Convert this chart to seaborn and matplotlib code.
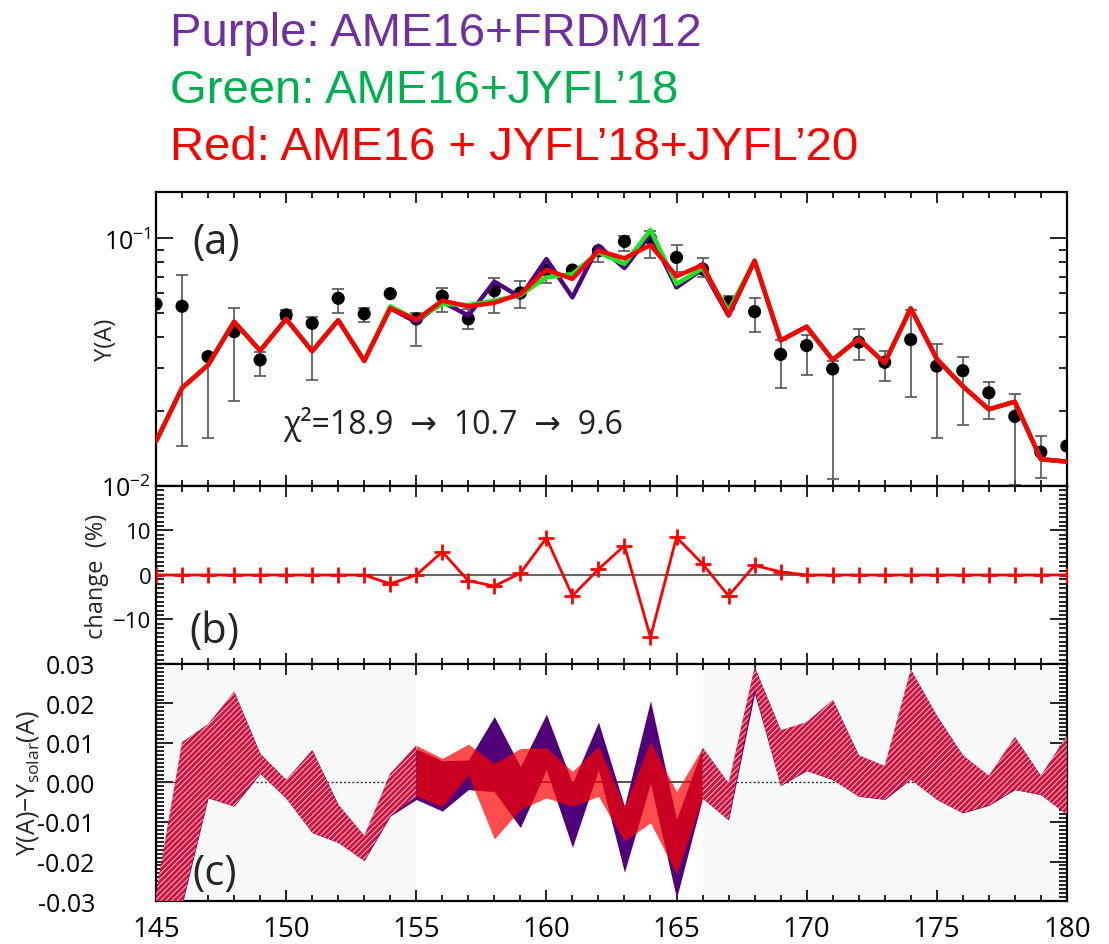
"""
Y(A) abundances around the rare-earth peak: model vs solar, change and residual bands
"""
import matplotlib
matplotlib.use("Agg")
import matplotlib.pyplot as plt
from matplotlib.ticker import MultipleLocator, FixedLocator, NullFormatter, FixedFormatter
import numpy as np
import pandas as pd
import seaborn as sns

sns.set_theme(style="ticks")
# seaborn resets the font, so set it afterwards
plt.rcParams["font.family"] = ["Open Sans", "DejaVu Sans"]
plt.rcParams["hatch.linewidth"] = 0.7

# ---- data ----
mass = [145, 146, 147, 148, 149, 150, 151, 152, 153, 154,
        155, 156, 157, 158, 159, 160, 161, 162, 163, 164,
        165, 166, 167, 168, 169, 170, 171, 172, 173, 174,
        175, 176, 177, 178, 179, 180]

# solar abundances with asymmetric error bar ends
y_solar = [0.0543, 0.0532, 0.0333, 0.0420, 0.0323, 0.0491, 0.0454, 0.0573, 0.0496, 0.0598,
           0.0473, 0.0584, 0.0473, 0.0615, 0.0602, 0.0745, 0.0745, 0.0891, 0.0972, 0.1000,
           0.0838, 0.0752, 0.0552, 0.0506, 0.0340, 0.0369, 0.0297, 0.0381, 0.0316, 0.0390,
           0.0305, 0.0292, 0.0238, 0.0191, 0.0137, 0.0145]
solar_hi = [0.0543, 0.0711, 0.0340, 0.0524, 0.0347, 0.0516, 0.0483, 0.0625, 0.0525, 0.0598,
            0.0500, 0.0632, 0.0519, 0.0694, 0.0673, 0.0775, 0.0745, 0.0905, 0.1025, 0.1070,
            0.0942, 0.0836, 0.0587, 0.0573, 0.0390, 0.0408, 0.0321, 0.0431, 0.0350, 0.0516,
            0.0374, 0.0333, 0.0263, 0.0235, 0.0159, 0.0145]
solar_lo = [0.0543, 0.01446, 0.01563, 0.0221, 0.0278, 0.0473, 0.0267, 0.0500, 0.0461, 0.0598,
            0.0366, 0.0503, 0.0431, 0.0500, 0.0522, 0.0660, 0.0745, 0.0800, 0.0891, 0.0830,
            0.0729, 0.0696, 0.0519, 0.0420, 0.0249, 0.0282, 0.0107, 0.0322, 0.0265, 0.0228,
            0.0156, 0.0177, 0.0186, 0.0101, 0.0108, 0.0145]

y_purple = [0.01514, 0.0249, 0.0308, 0.0461, 0.0352, 0.0473, 0.0350, 0.0467, 0.0320, 0.0522,
            0.0459, 0.0555, 0.0488, 0.0669, 0.0578, 0.0825, 0.0578, 0.0934, 0.0759, 0.1040,
            0.0634, 0.0752, 0.0488, 0.0812, 0.0387, 0.0440, 0.0323, 0.0393, 0.0314, 0.0522,
            0.0326, 0.0253, 0.0204, 0.0219, 0.01283, 0.01254]
y_green = [0.01514, 0.0249, 0.0308, 0.0461, 0.0352, 0.0473, 0.0350, 0.0467, 0.0320, 0.0532,
           0.0469, 0.0543, 0.0538, 0.0560, 0.0590, 0.0696, 0.0718, 0.0878, 0.0788, 0.1083,
           0.0654, 0.0757, 0.0511, 0.0812, 0.0387, 0.0440, 0.0323, 0.0393, 0.0314, 0.0522,
           0.0326, 0.0253, 0.0204, 0.0219, 0.01283, 0.01254]
y_red = [0.01514, 0.0249, 0.0308, 0.0461, 0.0352, 0.0473, 0.0350, 0.0467, 0.0320, 0.0522,
         0.0469, 0.0560, 0.0532, 0.0549, 0.0596, 0.0747, 0.0686, 0.0891, 0.0831, 0.0940,
         0.0703, 0.0781, 0.0491, 0.0812, 0.0387, 0.0440, 0.0323, 0.0393, 0.0314, 0.0522,
         0.0326, 0.0253, 0.0204, 0.0219, 0.01283, 0.01254]

change_pct = [0, 0, 0, 0, 0, 0, 0, 0, 0, -2.0,
              0.0, 5.2, -1.3, -2.5, 0.4, 8.3, -4.7, 1.3, 6.6, -14.0,
              8.5, 2.5, -4.7, 2.15, 0.7, 0, 0, 0, 0, 0,
              0, 0, 0, 0, 0, 0]

# Y(A) - Y_solar(A) bands
purple_lo = [-0.0600, -0.0310, -0.0039, -0.0060, 0.0023, -0.0040, -0.0127, -0.0152, -0.0198, -0.0085,
             -0.0043, -0.00725, -0.0018, -0.0023, -0.0114, 0.0032, -0.0164, 0.0032, -0.0227, -0.0002,
             -0.0293, -0.0040, -0.0095, 0.0225, -0.0008, 0.0030, 0.0007, -0.0035, -0.0043, 0.0008,
             -0.0043, -0.0077, -0.0058, -0.0018, -0.0031, -0.0081]
purple_hi = [-0.0280, 0.01025, 0.0148, 0.0230, 0.0073, 0.0007, 0.0082, -0.0056, -0.0135, 0.0025,
             0.0085, 0.0055, 0.0057, 0.0167, 0.0040, 0.0173, -0.0002, 0.0153, -0.0060, 0.0207,
             -0.0093, 0.0088, -0.0002, 0.0292, 0.0132, 0.0153, 0.0209, 0.0069, 0.0042, 0.0286,
             0.0169, 0.0069, 0.0017, 0.0115, 0.0017, 0.0119]
red_lo = [-0.0600, -0.0310, -0.0039, -0.0060, 0.0023, -0.0040, -0.0127, -0.0152, -0.0198, -0.0085,
          -0.0035, -0.0060, 0.0019, -0.0143, -0.0068, -0.0039, -0.0060, -0.0035, -0.0148, -0.0102,
          -0.0231, -0.0040, -0.0095, 0.0236, -0.0008, 0.0030, 0.0007, -0.0035, -0.0043, 0.0008,
          -0.0043, -0.0077, -0.0058, -0.0018, -0.0031, -0.0081]
red_hi = [-0.0280, 0.01025, 0.0148, 0.0230, 0.0073, 0.0007, 0.0082, -0.0056, -0.0135, 0.0023,
          0.0094, 0.0061, 0.0097, 0.0048, 0.0086, 0.0088, 0.0028, 0.0092, -0.0060, 0.0103,
          -0.0023, 0.0088, -0.0002, 0.0292, 0.0132, 0.0153, 0.0209, 0.0069, 0.0042, 0.0286,
          0.0169, 0.0069, 0.0017, 0.0115, 0.0017, 0.0119]

titles = ["Purple: AME16+FRDM12", "Green: AME16+JYFL\u201918", "Red: AME16 + JYFL\u201918+JYFL\u201920"]
title_colors = ["#7030A0", "#00B050", "#FF0000"]

df = pd.DataFrame({
    "A": mass, "obs": y_solar, "purple": y_purple, "green": y_green, "red": y_red,
    "change": change_pct,
})
A = np.array(mass)
obs = np.array(y_solar)
yerr = [obs - np.array(solar_lo), np.array(solar_hi) - obs]

# ---- figure ----
fig = plt.figure(figsize=(11.09, 9.45), dpi=100)
gs = fig.add_gridspec(3, 1, height_ratios=[294, 178, 237], hspace=0,
                      left=0.1407, right=0.962, top=0.7958, bottom=0.0455)
ax_a = fig.add_subplot(gs[0])
ax_b = fig.add_subplot(gs[1], sharex=ax_a)
ax_c = fig.add_subplot(gs[2], sharex=ax_a)

for (txt, col, yb) in zip(titles, title_colors, [0.9513, 0.891, 0.8307]):
    fig.text(0.153, yb, txt, color=col, fontsize=34, family="Liberation Sans", va="baseline")

# (a) abundances
ax_a.set_yscale("log")
ax_a.errorbar(A, obs, yerr=yerr, fmt="none", ecolor="#555555", elinewidth=1.2,
              capsize=4, capthick=1.2, zorder=2)
sns.scatterplot(data=df, x="A", y="obs", color="black", s=90, edgecolor="none", zorder=3, ax=ax_a)
sns.lineplot(data=df, x="A", y="purple", color="#500080", lw=3.2, zorder=4, ax=ax_a)
sns.lineplot(data=df, x="A", y="green", color="#22e022", lw=3.2, zorder=5, ax=ax_a)
sns.lineplot(data=df, x="A", y="red", color="#ff0000", lw=3.2, zorder=6, ax=ax_a)
ax_a.set_ylim(0.01, 0.154)
ax_a.yaxis.set_major_locator(FixedLocator([0.01, 0.1]))
ax_a.yaxis.set_minor_formatter(NullFormatter())
ax_a.set_ylabel("Y(A)", fontsize=17)
ax_a.text(149.9, 0.0163, "\u03c7\u00b2=18.9  \u2192  10.7  \u2192  9.6", fontsize=23, color="#222222")
ax_a.text(0.04, 0.83, "(a)", transform=ax_a.transAxes, fontsize=30, va="center")

# (b) change in percent
ax_b.axhline(0, color="#666666", lw=1.5, zorder=1)
sns.lineplot(data=df, x="A", y="change", color="#ff0000", lw=2, marker="+",
             markersize=11, markeredgewidth=2, markeredgecolor="#ff0000", zorder=3, ax=ax_b)
ax_b.set_ylim(-20, 20)
ax_b.yaxis.set_major_locator(FixedLocator([-10, 0, 10]))
ax_b.yaxis.set_minor_locator(MultipleLocator(1))
ax_b.set_ylabel("change  (%)", fontsize=17)
ax_b.text(0.037, 0.185, "(b)", transform=ax_b.transAxes, fontsize=30, va="center")

# (c) Y(A) - Y_solar(A) bands
mid = (A >= 155) & (A <= 166)
out = (A <= 155) | (A >= 166)
ax_c.axvspan(145, 155, color="#f9f9f9", lw=0, zorder=0)
ax_c.axvspan(166, 180, color="#f9f9f9", lw=0, zorder=0)
ax_c.hlines(0, 145, 155, color="#333333", lw=1, ls=(0, (1.5, 1.5)), zorder=1)
ax_c.hlines(0, 155, 166, color="#333333", lw=1.2, zorder=1)
ax_c.hlines(0, 166, 180, color="#333333", lw=1, ls=(0, (1.5, 1.5)), zorder=1)
ax_c.fill_between(A, purple_lo, purple_hi, color="#500078", lw=0, zorder=2)
ax_c.fill_between(A, red_lo, red_hi, where=mid, color="#ff0000", alpha=0.7, lw=0, zorder=3)
ax_c.fill_between(A, red_lo, red_hi, where=out, facecolor="#d0123e", edgecolor="#f4c0cc",
                  hatch="//////", lw=0, zorder=3)
ax_c.set_ylim(-0.03, 0.03)
c_ticks = [-0.03, -0.02, -0.01, 0.0, 0.01, 0.02, 0.03]
ax_c.yaxis.set_major_locator(FixedLocator(c_ticks))
ax_c.yaxis.set_major_formatter(FixedFormatter([f"{v:.2f}" for v in c_ticks]))
ax_c.yaxis.set_minor_locator(MultipleLocator(0.001))
ax_c.set_ylabel("Y(A)\u2212Y$_{\\mathregular{solar}}$(A)", fontsize=18)
ax_c.text(0.04, 0.12, "(c)", transform=ax_c.transAxes, fontsize=30, va="center")

ax_c.set_xlim(145, 180)
ax_c.xaxis.set_major_locator(MultipleLocator(5))
ax_c.xaxis.set_minor_locator(MultipleLocator(1))
ax_c.set_xlabel("")

for ax in (ax_a, ax_b, ax_c):
    for s in ax.spines.values():
        s.set_linewidth(1.6)
        s.set_color("black")
    ax.tick_params(axis="both", which="both", direction="in", top=True, right=True,
                   colors="black", width=1.2)
    ax.tick_params(axis="x", which="major", length=8)
    ax.tick_params(axis="x", which="minor", length=4)
    ax.tick_params(axis="y", which="major", length=12, labelsize=18)
    ax.tick_params(axis="y", which="minor", length=6)
    ax.set_xlabel("")

ax_a.tick_params(axis="x", labelbottom=False)
ax_b.tick_params(axis="x", labelbottom=False)
ax_b.tick_params(axis="y", labelsize=16)
ax_c.tick_params(axis="x", labelsize=20, pad=10)
ax_c.tick_params(axis="y", pad=44)

ax_a.yaxis.set_label_coords(-0.0417, 0.5)
ax_b.yaxis.set_label_coords(-0.052, 0.5)
ax_c.yaxis.set_label_coords(-0.126, 0.5)

fig.savefig("out.png", dpi=100)
